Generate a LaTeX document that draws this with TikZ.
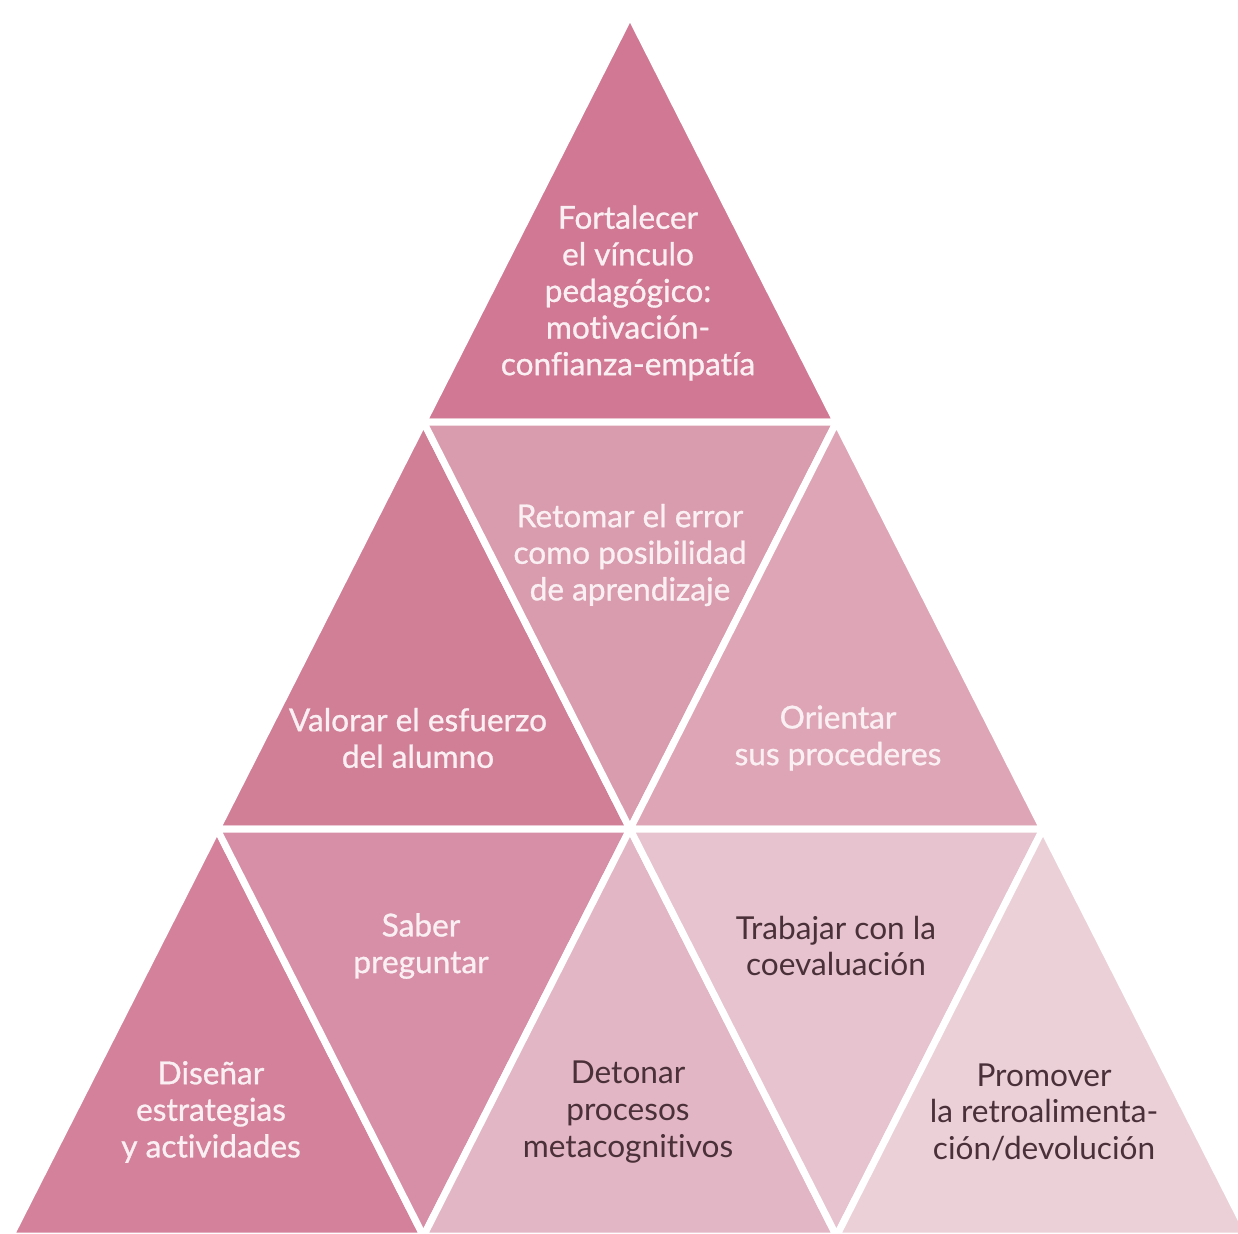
\documentclass[tikz,border=0pt]{standalone}
\usepackage{fontspec}
\setmainfont{Lato}[Ligatures=NoCommon]
\newfontfamily\gruesa{Lato}[Ligatures=NoCommon,FakeBold=0.9]
\usetikzlibrary{positioning}

\definecolor{rosaA}{HTML}{D07894}
\definecolor{rosaB}{HTML}{D17E97}
\definecolor{rosaC}{HTML}{D99BAE}
\definecolor{rosaD}{HTML}{DEA5B6}
\definecolor{rosaE}{HTML}{D4829C}
\definecolor{rosaF}{HTML}{D78FA7}
\definecolor{rosaG}{HTML}{E2B6C4}
\definecolor{rosaH}{HTML}{E6C3CE}
\definecolor{rosaI}{HTML}{EBD0D8}
\definecolor{textoclaro}{HTML}{FAF0F3}
\definecolor{textooscuro}{HTML}{4A3038}

\begin{document}
\begin{tikzpicture}[x=0.5pt,y=-0.5pt,
  tri/.style={draw=white,line width=3.5pt,line join=round},
  etiqueta/.style={align=center,inner sep=0pt},
  claro/.style={etiqueta,text=textoclaro,font=\gruesa\fontsize{15.8}{18.3}\selectfont},
  oscuro/.style={etiqueta,text=textooscuro,font=\fontsize{15.8}{18.3}\selectfont}]

\useasboundingbox (0,0) rectangle (1238,1233);
\clip (0,0) rectangle (1238,1233);

% vertices
\coordinate (A) at (630,15);
\coordinate (L1) at (423.5,422);
\coordinate (R1) at (836.5,422);
\coordinate (L2) at (217,829);
\coordinate (M2) at (630,829);
\coordinate (R2) at (1043,829);
\coordinate (L3) at (10.5,1236);
\coordinate (P3) at (423.5,1236);
\coordinate (Q3) at (836.5,1236);
\coordinate (R3) at (1249.5,1236);

% fila 1
\filldraw[tri,fill=rosaA] (A)--(L1)--(R1)--cycle;

% fila 2
\filldraw[tri,fill=rosaB] (L1)--(L2)--(M2)--cycle;
\filldraw[tri,fill=rosaC] (L1)--(R1)--(M2)--cycle;
\filldraw[tri,fill=rosaD] (R1)--(M2)--(R2)--cycle;

% fila 3
\filldraw[tri,fill=rosaE] (L2)--(L3)--(P3)--cycle;
\filldraw[tri,fill=rosaF] (L2)--(M2)--(P3)--cycle;
\filldraw[tri,fill=rosaG] (M2)--(P3)--(Q3)--cycle;
\filldraw[tri,fill=rosaH] (M2)--(R2)--(Q3)--cycle;
\filldraw[tri,fill=rosaI] (R2)--(Q3)--(R3)--cycle;

% textos
\node[claro] (vinculo) at (628,293) {Fortalecer\\el vínculo\\pedagógico:\\motivación-\\confianza-empatía};
\node[claro] (error) at (630,555) {Retomar el error\\como posibilidad\\de aprendizaje};
\node[claro] (esfuerzo) at (418,738) {Valorar el esfuerzo\\del alumno};
\node[claro] (orientar) at (838,738) {Orientar\\sus procederes};
\node[claro] (preguntar) at (421,946) {Saber\\preguntar};
\node[oscuro] (coeval) at (836,946) {Trabajar con la\\coevaluación};
\node[claro] (disenar) at (211,1112) {Diseñar\\estrategias\\y actividades};
\node[oscuro] (detonar) at (628,1112) {Detonar\\procesos\\metacognitivos};
\node[oscuro] (promover) at (1044,1112) {Promover\\la retroalimenta-\\ción/devolución};

\end{tikzpicture}
\end{document}
